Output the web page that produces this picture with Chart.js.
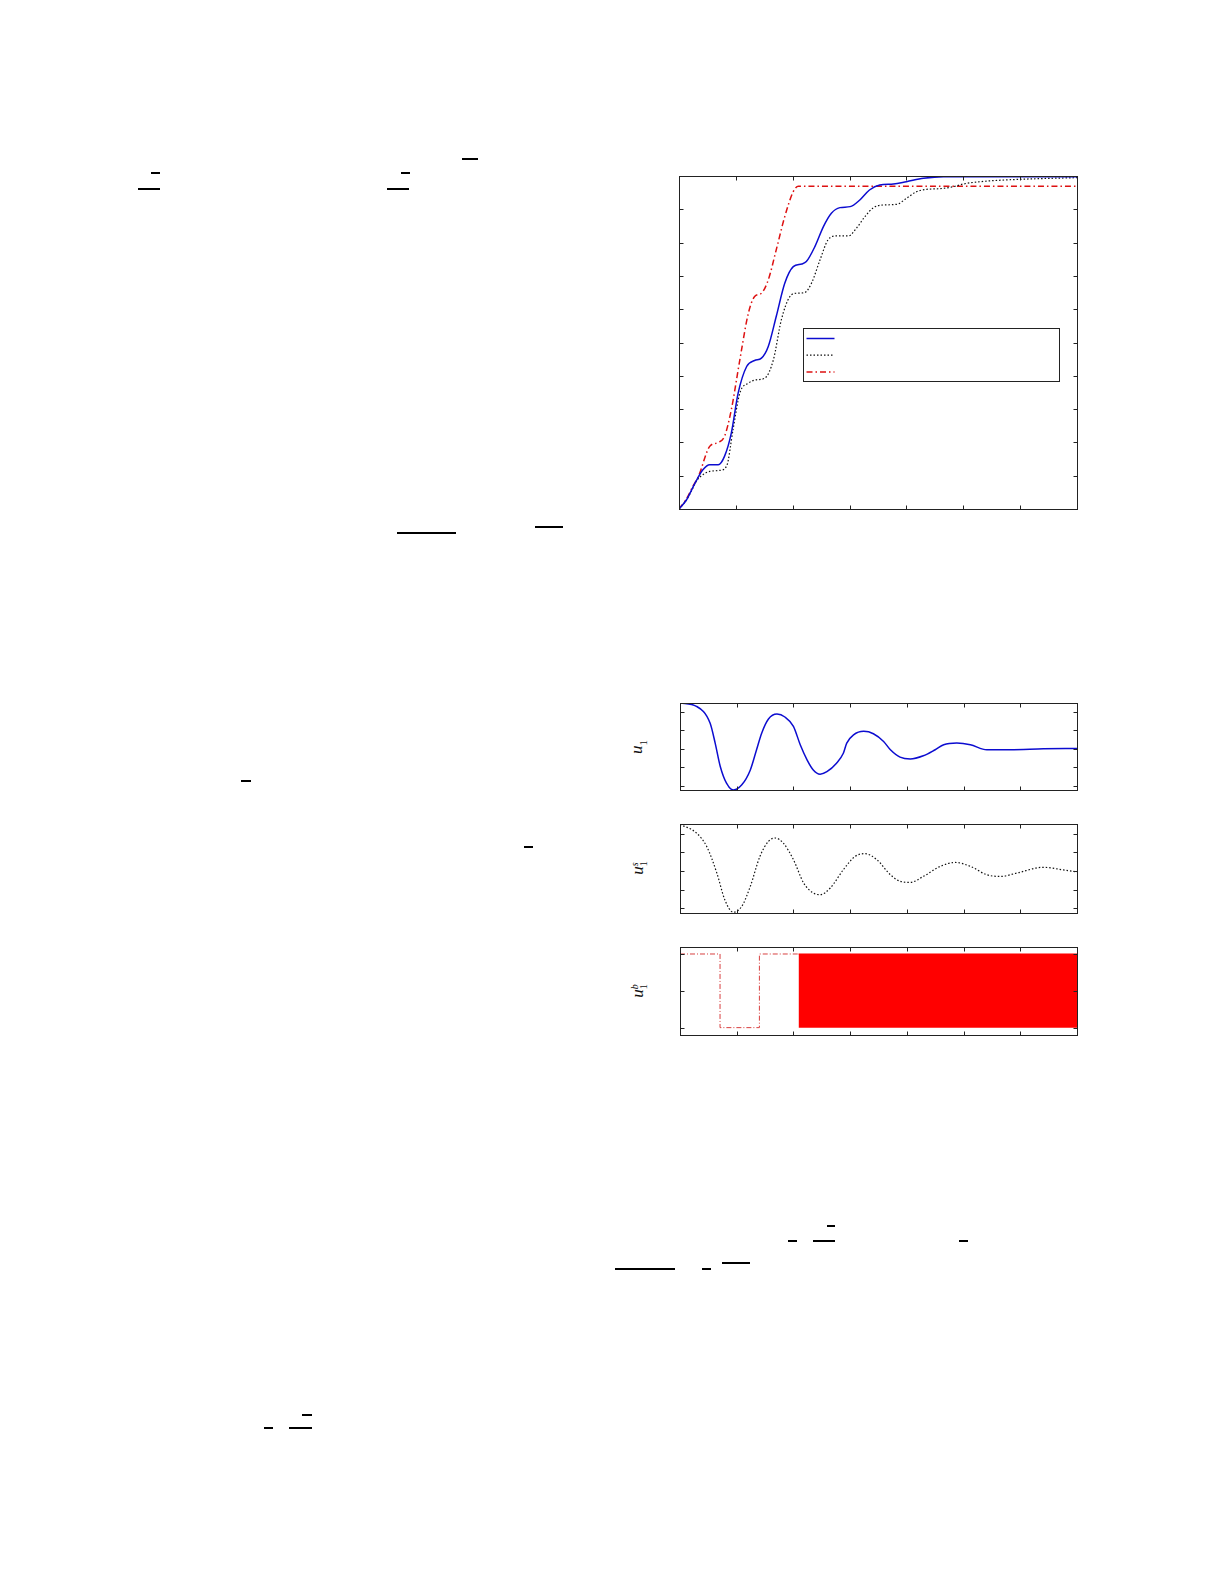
<!DOCTYPE html>
<html>
<head>
<meta charset="utf-8">
<script src="https://cdn.jsdelivr.net/npm/chart.js@4.4.1/dist/chart.umd.min.js"></script>
<style>
  body { margin: 0; background: #fff; }
  #page { position: relative; width: 1225px; height: 1585px; background: #fff; overflow: hidden; }
  .cv { position: absolute; }
  .bar { position: absolute; height: 2px; background: #000; }
  .lab {
    position: absolute; white-space: nowrap;
    font-family: "Liberation Serif", "DejaVu Serif", serif; font-style: italic; font-size: 17px;
    transform: translate(-50%, -50%) rotate(-90deg); color: #111; line-height: 17px;
  }
  .ss { display: inline-flex; flex-direction: column; font-style: normal; font-size: 10px; line-height: 9px; vertical-align: middle; }
  .lab sub { font-style: normal; font-size: 11px; }
</style>
</head>
<body>
<div id="page">
  <div class="cv" style="left:669px;top:166px;width:418px;height:353px"><canvas id="mainChart"></canvas></div>
  <div class="cv" style="left:670px;top:693px;width:417px;height:107px"><canvas id="u1Chart"></canvas></div>
  <div class="cv" style="left:670px;top:814px;width:417px;height:109px"><canvas id="u1sChart"></canvas></div>
  <div class="cv" style="left:670px;top:937px;width:417px;height:108px"><canvas id="u1bChart"></canvas></div>

  <div class="lab" style="left:640px;top:747px"><i>u</i><sub>1</sub></div>
  <div class="lab" style="left:639px;top:868px"><i>u</i><span class="ss"><i>s</i><span>1</span></span></div>
  <div class="lab" style="left:639px;top:991px"><i>u</i><span class="ss"><i>b</i><span>1</span></span></div>
</div>
<script>
// main plot: tracking curves
var blueX = [0, 0.13, 0.25, 0.31, 0.42, 0.54, 0.69, 0.80, 0.92, 1.04, 1.19, 1.33, 1.45, 1.57, 1.71, 1.86, 2.01, 2.16, 2.24, 2.39, 2.54, 2.68, 2.83, 3.01, 3.18, 3.35, 3.53, 3.77, 4.0, 4.30, 4.65, 7];
var blueY = [0, 0.27, 0.67, 0.87, 1.18, 1.33, 1.33, 1.58, 2.28, 3.48, 4.28, 4.46, 4.53, 4.88, 5.78, 6.78, 7.28, 7.36, 7.43, 7.88, 8.48, 8.88, 9.05, 9.08, 9.28, 9.58, 9.73, 9.76, 9.83, 9.93, 9.98, 9.98];

var blackX = [0, 0.13, 0.25, 0.31, 0.42, 0.54, 0.72, 0.84, 0.95, 1.07, 1.22, 1.36, 1.51, 1.66, 1.80, 1.95, 2.07, 2.21, 2.33, 2.48, 2.62, 2.77, 2.98, 3.12, 3.27, 3.42, 3.59, 3.83, 4.0, 4.18, 4.36, 4.59, 4.83, 5.0, 5.30, 5.99, 7];
var blackY = [0, 0.27, 0.65, 0.85, 1.03, 1.13, 1.16, 1.30, 2.38, 3.48, 3.78, 3.88, 3.93, 4.48, 5.68, 6.38, 6.48, 6.50, 6.78, 7.48, 8.08, 8.20, 8.20, 8.43, 8.78, 9.05, 9.13, 9.15, 9.33, 9.53, 9.60, 9.62, 9.68, 9.76, 9.83, 9.90, 9.95];

var redX = [0, 0.13, 0.25, 0.34, 0.54, 0.69, 0.80, 0.92, 1.07, 1.22, 1.33, 1.45, 1.57, 1.71, 1.86, 2.01, 2.10, 7];
var redY = [0, 0.30, 0.70, 0.97, 1.88, 2.00, 2.18, 2.98, 4.48, 5.88, 6.38, 6.48, 6.88, 7.78, 8.78, 9.53, 9.69, 9.69];

// control inputs
var u1X = [0, 0.29, 0.53, 0.62, 0.71, 0.82, 0.94, 1.09, 1.24, 1.35, 1.44, 1.56, 1.71, 1.85, 2.0, 2.12, 2.24, 2.35, 2.47, 2.59, 2.76, 2.88, 2.94, 3.06, 3.24, 3.41, 3.59, 3.71, 3.88, 4.06, 4.29, 4.5, 4.65, 4.88, 5.12, 5.41, 5.82, 6.41, 7];
var u1Y = [2.49, 2.31, 1.40, 0.31, -0.96, -1.87, -2.24, -1.96, -1.15, -0.05, 0.85, 1.62, 1.89, 1.73, 1.22, 0.22, -0.6, -1.15, -1.38, -1.24, -0.78, -0.24, 0.31, 0.76, 0.95, 0.82, 0.4, -0.05, -0.45, -0.55, -0.38, -0.05, 0.22, 0.31, 0.22, -0.05, -0.05, 0, 0.02];

var u1sX = [0, 0.29, 0.47, 0.65, 0.79, 0.94, 1.09, 1.24, 1.41, 1.56, 1.68, 1.82, 2.0, 2.18, 2.35, 2.47, 2.65, 2.88, 3.09, 3.26, 3.47, 3.71, 3.88, 4.06, 4.29, 4.59, 4.85, 5.12, 5.41, 5.65, 5.94, 6.40, 6.76, 7];
var u1sY = [2.5, 2.04, 1.32, -0.11, -1.54, -2.21, -1.89, -0.82, 0.79, 1.59, 1.77, 1.5, 0.61, -0.64, -1.18, -1.27, -0.91, 0.07, 0.79, 0.93, 0.61, -0.2, -0.55, -0.61, -0.29, 0.25, 0.46, 0.25, -0.2, -0.29, -0.11, 0.2, 0.06, -0.05];

var u1bX = [0, 0.706, 1.40, 2.09];
var u1bY = [1, -1, 1, 1];
var chatterX = [2.09, 7];
var chatterY = [1, 1];

// tick positions
var timeTicks = [0, 1, 2, 3, 4, 5, 6, 7];
var mainTicks = [0, 1, 2, 3, 4, 5, 6, 7, 8, 9, 10];
var uTicks = [-2, -1, 0, 1, 2];
var ubTicks = [-1, 0, 1];

// stray fraction bars of the page text [left, right, y]
var pageBars = [
  [138, 160, 189], [151, 160, 173], [387, 409, 189], [401, 410, 173], [462, 478, 159],
  [397, 456, 533], [535, 563, 527], [241, 251, 781], [524, 533, 847],
  [827, 835, 1226], [788, 797, 1241], [813, 835, 1241], [959, 968, 1241],
  [615, 675, 1269], [702, 711, 1269], [722, 750, 1263],
  [302, 312, 1415], [264, 273, 1428], [289, 312, 1428]
];

pageBars.forEach(function (b) {
  var d = document.createElement("div");
  d.className = "bar";
  d.style.left = b[0] + "px";
  d.style.width = (b[1] - b[0]) + "px";
  d.style.top = (b[2] - 1) + "px";
  document.getElementById("page").appendChild(d);
});

function pts(xs, ys) {
  return xs.map(function (x, i) { return { x: x, y: ys[i] }; });
}

// box with inward ticks on all four sides (matlab style)
var boxTicks = {
  id: "boxTicks",
  afterDatasetsDraw: function (chart, args, opts) {
    var ctx = chart.ctx, a = chart.chartArea, sx = chart.scales.x, sy = chart.scales.y;
    var L = Math.round(a.left) + 0.5, R = Math.round(a.right) + 0.5;
    var T = Math.round(a.top) + 0.5, B = Math.round(a.bottom) + 0.5;
    ctx.save();
    ctx.strokeStyle = "#222";
    ctx.lineWidth = 1;
    ctx.setLineDash([]);
    ctx.beginPath();
    opts.xTicks.forEach(function (v) {
      var p = Math.round(sx.getPixelForValue(v)) + 0.5;
      ctx.moveTo(p, B); ctx.lineTo(p, B - 4);
      ctx.moveTo(p, T); ctx.lineTo(p, T + 4);
    });
    opts.yTicks.forEach(function (v) {
      var p = Math.round(sy.getPixelForValue(v)) + 0.5;
      ctx.moveTo(L, p); ctx.lineTo(L + 4, p);
      ctx.moveTo(R, p); ctx.lineTo(R - 4, p);
    });
    ctx.stroke();
    ctx.strokeRect(L, T, R - L, B - T);
    ctx.restore();
  }
};

// legend box without text, inside the main plot
var legendBox = {
  id: "legendBox",
  afterDraw: function (chart) {
    var ctx = chart.ctx, a = chart.chartArea;
    var x0 = Math.round(a.left + 124) + 0.5, y0 = Math.round(a.top + 152) + 0.5;
    ctx.save();
    ctx.fillStyle = "#fff";
    ctx.fillRect(x0, y0, 256, 53);
    ctx.strokeStyle = "#222";
    ctx.lineWidth = 1;
    ctx.strokeRect(x0, y0, 256, 53);
    chart.data.datasets.forEach(function (ds, i) {
      var y = y0 + 10 + i * 16.7;
      ctx.strokeStyle = ds.borderColor;
      ctx.lineWidth = ds.borderWidth;
      ctx.setLineDash(ds.borderDash || []);
      ctx.beginPath();
      ctx.moveTo(x0 + 3, y);
      ctx.lineTo(x0 + 31, y);
      ctx.stroke();
    });
    ctx.restore();
  }
};

function baseOptions(ymin, ymax, yTicks) {
  return {
    responsive: true,
    maintainAspectRatio: false,
    animation: false,
    layout: { padding: 10 },
    elements: { point: { radius: 0 } },
    plugins: {
      legend: { display: false },
      tooltip: { enabled: false },
      boxTicks: { xTicks: timeTicks, yTicks: yTicks }
    },
    scales: {
      x: { type: "linear", min: 0, max: 7, display: false },
      y: { type: "linear", min: ymin, max: ymax, display: false }
    }
  };
}

new Chart(document.getElementById("mainChart"), {
  type: "line",
  data: {
    datasets: [
      { data: pts(blueX, blueY), borderColor: "#0c0cd0", borderWidth: 1.5, cubicInterpolationMode: "monotone", fill: false },
      { data: pts(blackX, blackY), borderColor: "#111", borderWidth: 1.2, borderDash: [1.5, 2], cubicInterpolationMode: "monotone", fill: false },
      { data: pts(redX, redY), borderColor: "#dd1111", borderWidth: 1.5, borderDash: [6, 3, 1.5, 3], cubicInterpolationMode: "monotone", fill: false }
    ]
  },
  options: baseOptions(0, 10, mainTicks),
  plugins: [boxTicks, legendBox]
});

new Chart(document.getElementById("u1Chart"), {
  type: "line",
  data: {
    datasets: [
      { data: pts(u1X, u1Y), borderColor: "#0c0cd0", borderWidth: 1.5, cubicInterpolationMode: "monotone", fill: false }
    ]
  },
  options: baseOptions(-2.24, 2.49, uTicks),
  plugins: [boxTicks]
});

new Chart(document.getElementById("u1sChart"), {
  type: "line",
  data: {
    datasets: [
      { data: pts(u1sX, u1sY), borderColor: "#111", borderWidth: 1.2, borderDash: [1.5, 2], cubicInterpolationMode: "monotone", fill: false }
    ]
  },
  options: baseOptions(-2.25, 2.52, uTicks),
  plugins: [boxTicks]
});

new Chart(document.getElementById("u1bChart"), {
  type: "line",
  data: {
    datasets: [
      { data: pts(u1bX, u1bY), borderColor: "#d84040", borderWidth: 1, borderDash: [5, 2, 1, 2], stepped: true, fill: false },
      { data: pts(chatterX, chatterY), borderColor: "#ff0000", borderWidth: 1, backgroundColor: "#ff0000", fill: { value: -1 } }
    ]
  },
  options: baseOptions(-1.2, 1.19, ubTicks),
  plugins: [boxTicks]
});
</script>
</body>
</html>
